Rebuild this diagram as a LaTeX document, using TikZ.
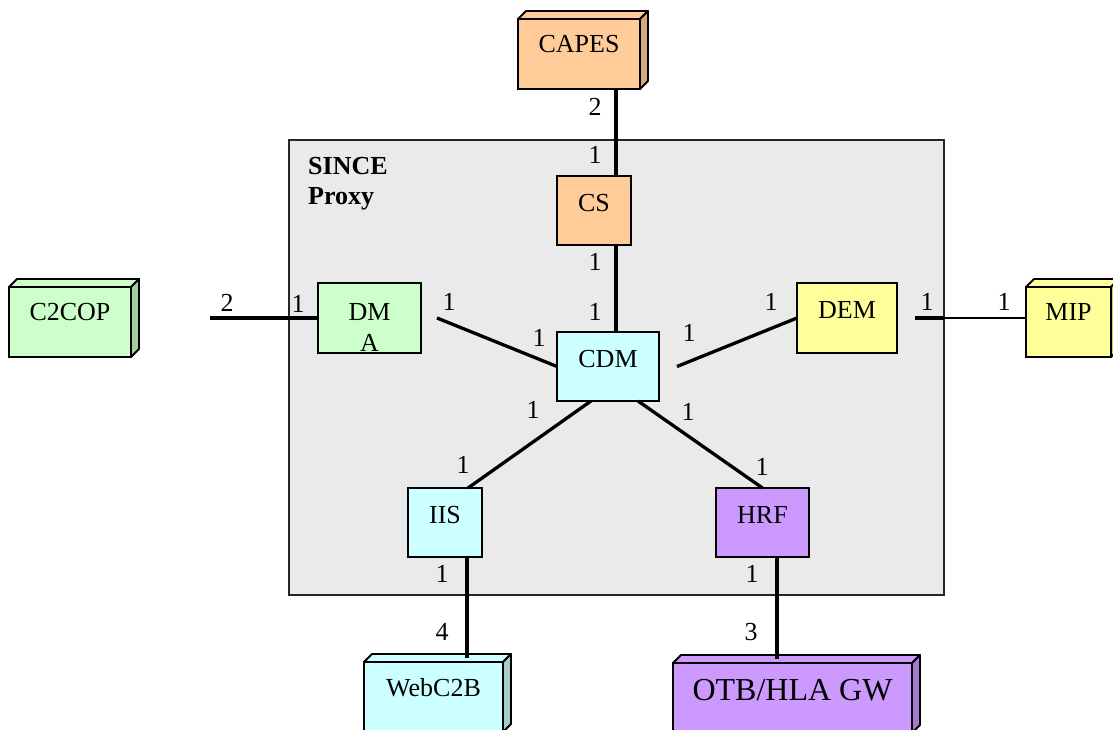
\documentclass[tikz,border=0pt]{standalone}
\usepackage{fontspec}
\setmainfont{Liberation Serif}
\usetikzlibrary{calc}
\definecolor{peach}{HTML}{FFCC99}
\definecolor{peachside}{HTML}{D4A97E}
\definecolor{mint}{HTML}{CCFFCC}
\definecolor{mintside}{HTML}{A3CCA3}
\definecolor{aqua}{HTML}{CCFFFF}
\definecolor{aquaside}{HTML}{A3CCCC}
\definecolor{lemon}{HTML}{FFFF99}
\definecolor{lemonside}{HTML}{CCCC7A}
\definecolor{lilac}{HTML}{CC99FF}
\definecolor{lilacside}{HTML}{A37ACC}
\definecolor{panel}{HTML}{EAEAEA}
\newcommand\cubefaces[3]{%
  \filldraw[fill=#2,cubeedge] (#1.north west) -- ++(8,-8) -- ($(#1.north east)+(8,-8)$) -- (#1.north east) -- cycle;
  \filldraw[fill=#3,cubeedge] (#1.north east) -- ++(8,-8) -- ($(#1.south east)+(8,-8)$) -- (#1.south east) -- cycle;}
\begin{document}
\begin{tikzpicture}[x=1pt,y=-1pt,
  txt/.style={font=\fontsize{26}{31}\selectfont},
  flatbox/.style={draw=black,line width=1.4pt,outer sep=0pt,inner sep=2pt,txt,text depth=16pt},
  cubebox/.style={draw=black,line width=1.8pt,outer sep=0pt,inner sep=2pt,txt,text depth=20pt},
  cubeedge/.style={draw=black,line width=1.8pt,line join=round},
  conn/.style={draw=black,line width=3.3pt},
  thinconn/.style={draw=black,line width=2.5pt},
  lab/.style={inner sep=0pt,txt}]
\useasboundingbox (0,0) rectangle (1113,730);
% panel
\node[draw=black!85,line width=1.1pt,fill=panel,minimum width=655pt,minimum height=455pt,outer sep=0pt,inner sep=0pt] (proxy) at (616.5,367.5) {};
\node[anchor=north west,inner sep=0pt,align=left,font=\bfseries\fontsize{26}{30}\selectfont] (proxytitle) at (308,157) {SINCE\\Proxy};
% inner boxes
\node[flatbox,fill=peach,minimum width=74pt,minimum height=69pt] (cs) at (594,210.5) {CS};
\node[flatbox,fill=aqua,minimum width=102pt,minimum height=69pt] (cdm) at (608,366.5) {CDM};
\node[flatbox,fill=mint,minimum width=103pt,minimum height=70pt] (dma) at (369.5,318) {};
\node[anchor=north,inner sep=0pt,align=center,font=\fontsize{26}{31}\selectfont] (dmatext) at ([yshift=-20pt]dma.north) {DM\\A};
\node[flatbox,fill=lemon,minimum width=100pt,minimum height=70pt] (dem) at (847,318) {DEM};
\node[flatbox,fill=aqua,minimum width=74pt,minimum height=69pt] (iis) at (445,522.5) {IIS};
\node[flatbox,fill=lilac,minimum width=93pt,minimum height=69pt] (hrf) at (762.5,522.5) {HRF};
% outer 3D boxes
\node[cubebox,fill=peach,minimum width=122pt,minimum height=70pt] (capes) at (579,54) {CAPES};
\cubefaces{capes}{peach}{peachside}
\node[cubebox,fill=mint,minimum width=122pt,minimum height=70pt] (c2cop) at (70,322) {C2COP};
\cubefaces{c2cop}{mint}{mintside}
\node[cubebox,fill=lemon,minimum width=85pt,minimum height=70pt] (mip) at (1068.5,322) {MIP};
\cubefaces{mip}{lemon}{lemonside}
\node[cubebox,fill=aqua,minimum width=139pt,minimum height=70pt] (webc2b) at (433.5,697) {WebC2B};
\cubefaces{webc2b}{aqua}{aquaside}
\node[cubebox,fill=lilac,minimum width=239pt,minimum height=70pt,font=\fontsize{32}{38}\selectfont,text depth=16pt] (otb) at (792.5,698) {OTB/HLA GW};
\cubefaces{otb}{lilac}{lilacside}
% helper coordinates
\coordinate (xcs) at (616,0);
\coordinate (xiis) at (467,0);
\coordinate (xhrf) at (777,0);
\coordinate (c2end) at (210,318);
\coordinate (panelcut) at (944,318);
% connectors
\draw[conn] (capes.south -| xcs) -- (cs.north -| xcs);
\draw[conn] (cs.south -| xcs) -- (cdm.north -| xcs);
\draw[conn] (c2end) -- (dma.west);
\draw[conn] ([xshift=16pt]dma.east) -- (cdm.west);
\draw[conn] ([xshift=18pt]cdm.east) -- (dem.west);
\draw[conn] ([xshift=18pt]dem.east) -- (panelcut);
\draw[thinconn] (panelcut) -- (panelcut -| mip.west);
\draw[conn] ([xshift=-17pt]cdm.south) -- ([xshift=23pt]iis.north);
\draw[conn] ([xshift=30pt]cdm.south) -- (hrf.north);
\draw[conn] (iis.south -| xiis) -- ([yshift=4pt]webc2b.north -| xiis);
\draw[conn] (hrf.south -| xhrf) -- ([yshift=4pt]otb.north -| xhrf);
% multiplicity labels
\node[lab] (l1) at (595,107) {2};
\node[lab] (l2) at (595,155) {1};
\node[lab] (l3) at (595,262) {1};
\node[lab] (l4) at (595,312) {1};
\node[lab] (l5) at (227,303) {2};
\node[lab] (l6) at (298,304) {1};
\node[lab] (l7) at (449,302) {1};
\node[lab] (l8) at (539,338) {1};
\node[lab] (l9) at (689,333) {1};
\node[lab] (l10) at (771,302) {1};
\node[lab] (l11) at (927,302) {1};
\node[lab] (l12) at (1004,302) {1};
\node[lab] (l13) at (533,410) {1};
\node[lab] (l14) at (463,465) {1};
\node[lab] (l15) at (688,412) {1};
\node[lab] (l16) at (762,467) {1};
\node[lab] (l17) at (442,574) {1};
\node[lab] (l18) at (752,574) {1};
\node[lab] (l19) at (442,632) {4};
\node[lab] (l20) at (751,632) {3};
\end{tikzpicture}
\end{document}
